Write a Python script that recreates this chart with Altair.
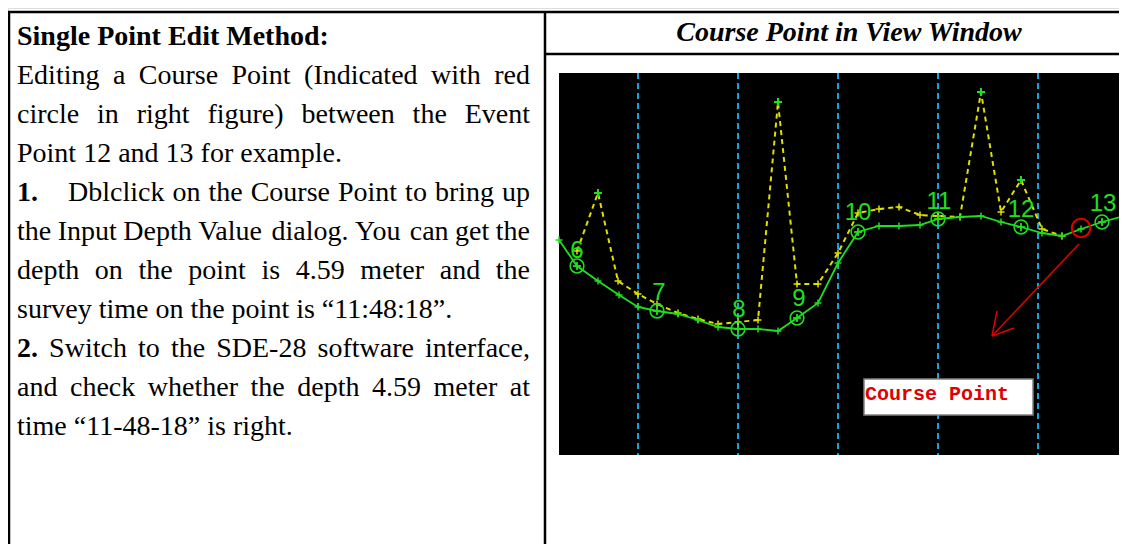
import altair as alt
import pandas as pd

# ---------------- chart data (profile: distance vs depth, image units, depth grows downward) ----------------
course_x = [0, 18, 39, 60, 79, 98, 119, 139, 159, 179, 199, 219, 238, 259, 279, 299, 320, 340,
            361, 379, 401, 422, 442, 462, 483, 503, 522, 543, 565]
course_depth = [167, 193, 208, 222, 234, 238, 241, 247, 254, 256, 256, 258, 245, 230, 190, 159,
                153, 153, 152, 146, 144, 143, 149, 154, 160, 163, 156, 149, 143]

raw_x = [18, 39, 59, 79, 98, 119, 139, 159, 179, 199, 219, 238, 259, 279, 299, 320, 340, 361,
         379, 401, 422, 442, 462, 483, 503]
raw_depth = [178, 120, 208, 221, 231, 240, 246, 251, 249, 247, 29, 211, 211, 180, 140, 136, 134,
             142, 143, 144, 19, 139, 107, 156, 163]

event_ids = ["6", "7", "8", "9", "10", "11", "12", "13"]
event_x = [18, 98, 179, 238, 299, 379, 462, 543]
event_depth = [193, 238, 256, 245, 159, 146, 154, 149]
label_x = [18, 100, 180, 240, 299, 380, 462, 544]
label_depth = [185, 227, 244, 233, 147, 136, 144, 138]

grid_x = [79, 179, 279, 379, 479]

course_point_x = [522]
course_point_depth = [155]

arrow_x1 = [520, 433, 433]
arrow_d1 = [171, 263, 263]
arrow_x2 = [433, 438, 455]
arrow_d2 = [263, 238, 255]

note_text = "Course Point"
note_box = [305, 474, 306, 342]  # x1, x2, depth1, depth2
note_pos = [306, 327]

header_text = "Course Point in View Window"
heading = "Single Point Edit Method:"
body_lines = [
    ("", "Editing a Course Point (Indicated with red", True),
    ("", "circle in right figure) between the Event", True),
    ("", "Point 12 and 13 for example.", False),
    ("1.", "Dblclick on the Course Point to bring up", True),
    ("", "the Input Depth Value dialog. You can get the", True),
    ("", "depth on the point is 4.59 meter and the", True),
    ("", "survey time on the point is \u201c11:48:18\u201d.", False),
    ("2.", "Switch to the SDE-28 software interface,", True),
    ("", "and check whether the depth 4.59 meter at", True),
    ("", "time \u201c11-48-18\u201d is right.", False),
]

# ---------------- layout helpers ----------------
W, H = 1111, 536
FS = 28
LEFT, RIGHT = 9, 522
TAB = 60
BASE0, PITCH = 37, 39

TIMES = dict(zip("abcdefghijklmnopqrstuvwxyz",
                 [444, 500, 444, 500, 444, 333, 500, 500, 278, 278, 500, 278, 778, 500, 500, 500,
                  500, 333, 389, 278, 500, 500, 722, 500, 500, 444]))
TIMES.update(zip("ABCDEFGHIJKLMNOPQRSTUVWXYZ",
                 [722, 667, 667, 722, 611, 556, 722, 722, 333, 389, 722, 611, 889, 722, 722, 556,
                  722, 667, 556, 611, 722, 722, 944, 722, 722, 611]))
TIMES.update({c: 500 for c in "0123456789"})
TIMES.update({" ": 250, ".": 250, ",": 250, ":": 278, "-": 333, "(": 333, ")": 333,
              "\u201c": 444, "\u201d": 444})
TIMES_BOLD = dict(TIMES)
TIMES_BOLD.update({".": 250, ":": 333})


def tw(s, bold=False):
    table = TIMES_BOLD if bold else TIMES
    return sum(table.get(c, 500) for c in s) / 1000.0 * FS


def justify(words, x0, x1):
    total = sum(tw(w, b) for w, b in words)
    gap = (x1 - x0 - total) / max(len(words) - 1, 1)
    out, x = [], x0
    for w, b in words:
        out.append((x, w, b))
        x += tw(w, b) + gap
    return out


rows = [(LEFT, BASE0, heading, True)]
for i, (prefix, line, just) in enumerate(body_lines):
    y = BASE0 + PITCH * (i + 1)
    if not just:
        rows.append((LEFT, y, line, False))
        continue
    words = [(w, False) for w in line.split(" ")]
    if prefix == "1.":
        rows.append((LEFT, y, prefix, True))
        placed = justify(words, TAB, RIGHT)
    elif prefix:
        placed = justify([(prefix, True)] + words, LEFT, RIGHT)
    else:
        placed = justify(words, LEFT, RIGHT)
    for x, w, b in placed:
        rows.append((x, y, w, b))

XS = alt.Scale(domain=[0, 565], range=[551, 1116], nice=False, zero=False)
YS = alt.Scale(domain=[0, 382], range=[65, 447], nice=False, zero=False)

GREEN = "#1ee01e"
YELLOW = "#e0e000"
CYAN = "#14a5dc"
RED = "#e00000"
PLUS = "M-1,0L1,0M0,-1L0,1"

one = pd.DataFrame({"a": [1]})

layers = []

# ---------------- table frame ----------------
for (xa, xb, ya, yb) in [(0, W, 4, None), (537, W, 46, None), (1, None, 4, H), (537, None, 4, H)]:
    enc = {"x": alt.value(xa), "y": alt.value(ya)}
    if xb is not None:
        enc["x2"] = alt.value(xb)
    if yb is not None:
        enc["y2"] = alt.value(yb)
    layers.append(alt.Chart(one).mark_rule(color="black", strokeWidth=2.5).encode(**enc))

for (x, y, t, b) in rows:
    kw = dict(font="Liberation Serif", fontSize=FS, align="left", baseline="alphabetic", color="black")
    if b:
        kw["fontWeight"] = "bold"
    layers.append(alt.Chart(one).mark_text(**kw).encode(
        x=alt.value(x), y=alt.value(y), text=alt.value(t)))

layers.append(alt.Chart(one).mark_text(
    font="Liberation Serif", fontSize=FS, fontWeight="bold", fontStyle="italic", align="center",
    baseline="alphabetic", color="black").encode(
    x=alt.value(841), y=alt.value(33), text=alt.value(header_text)))

# ---------------- view window ----------------
bg_df = pd.DataFrame({"x1": [0], "x2": [565], "d1": [0], "d2": [382]})
layers.append(alt.Chart(bg_df).mark_rect(color="black").encode(
    x=alt.X("x1:Q", scale=XS, axis=None), x2="x2:Q",
    y=alt.Y("d1:Q", scale=YS, axis=None), y2="d2:Q"))

grid_df = pd.DataFrame({"gx": grid_x, "d1": [0] * len(grid_x), "d2": [382] * len(grid_x)})
layers.append(alt.Chart(grid_df).mark_rule(color=CYAN, strokeWidth=2, strokeDash=[6, 4]).encode(
    x=alt.X("gx:Q", scale=XS, axis=None), y=alt.Y("d1:Q", scale=YS, axis=None), y2="d2:Q"))

raw_df = pd.DataFrame({"x": raw_x, "d": raw_depth, "o": list(range(len(raw_x)))})
layers.append(alt.Chart(raw_df).mark_line(color=YELLOW, strokeWidth=2, strokeDash=[5, 4]).encode(
    x=alt.X("x:Q", scale=XS, axis=None), y=alt.Y("d:Q", scale=YS, axis=None), order="o:Q"))
layers.append(alt.Chart(raw_df).mark_point(shape=PLUS, size=49, color=YELLOW, strokeWidth=1.5,
                                           opacity=1).encode(
    x=alt.X("x:Q", scale=XS, axis=None), y=alt.Y("d:Q", scale=YS, axis=None)))
# spike tips are marked in green
layers.append(alt.Chart(raw_df).transform_filter("datum.d < 125").mark_point(
    shape=PLUS, size=64, color=GREEN, strokeWidth=2, opacity=1).encode(
    x=alt.X("x:Q", scale=XS, axis=None), y=alt.Y("d:Q", scale=YS, axis=None)))

course_df = pd.DataFrame({"x": course_x, "d": course_depth, "o": list(range(len(course_x)))})
layers.append(alt.Chart(course_df).mark_line(color=GREEN, strokeWidth=1.8).encode(
    x=alt.X("x:Q", scale=XS, axis=None), y=alt.Y("d:Q", scale=YS, axis=None), order="o:Q"))
layers.append(alt.Chart(course_df).mark_point(shape=PLUS, size=49, color=GREEN, strokeWidth=1.5,
                                              opacity=1).encode(
    x=alt.X("x:Q", scale=XS, axis=None), y=alt.Y("d:Q", scale=YS, axis=None)))

ev_df = pd.DataFrame({"x": event_x, "d": event_depth})
layers.append(alt.Chart(ev_df).mark_point(shape="circle", size=190, filled=False, color=GREEN,
                                          strokeWidth=1.5, opacity=1).encode(
    x=alt.X("x:Q", scale=XS, axis=None), y=alt.Y("d:Q", scale=YS, axis=None)))
layers.append(alt.Chart(ev_df).mark_point(shape=PLUS, size=64, color=GREEN, strokeWidth=1.5,
                                          opacity=1).encode(
    x=alt.X("x:Q", scale=XS, axis=None), y=alt.Y("d:Q", scale=YS, axis=None)))

lab_df = pd.DataFrame({"x": label_x, "d": label_depth, "t": event_ids})
layers.append(alt.Chart(lab_df).mark_text(font="Liberation Sans", fontSize=24, color=GREEN,
                                          align="center", baseline="alphabetic").encode(
    x=alt.X("x:Q", scale=XS, axis=None), y=alt.Y("d:Q", scale=YS, axis=None), text="t:N"))

layers.append(alt.Chart(pd.DataFrame({"x": course_point_x, "d": course_point_depth})).mark_point(
    shape="circle", size=340, filled=False, color=RED, strokeWidth=2, opacity=1).encode(
    x=alt.X("x:Q", scale=XS, axis=None), y=alt.Y("d:Q", scale=YS, axis=None)))

arrow_df = pd.DataFrame({"x1": arrow_x1, "d1": arrow_d1, "x2": arrow_x2, "d2": arrow_d2})
layers.append(alt.Chart(arrow_df).mark_rule(color=RED, strokeWidth=1.5).encode(
    x=alt.X("x1:Q", scale=XS, axis=None), y=alt.Y("d1:Q", scale=YS, axis=None), x2="x2:Q", y2="d2:Q"))

box_df = pd.DataFrame({"x1": [note_box[0]], "x2": [note_box[1]], "d1": [note_box[2]], "d2": [note_box[3]]})
layers.append(alt.Chart(box_df).mark_rect(fill="white", stroke="#808080", strokeWidth=1.5).encode(
    x=alt.X("x1:Q", scale=XS, axis=None), x2="x2:Q", y=alt.Y("d1:Q", scale=YS, axis=None), y2="d2:Q"))
layers.append(alt.Chart(pd.DataFrame({"x": [note_pos[0]], "d": [note_pos[1]], "t": [note_text]})).mark_text(
    font="Liberation Mono", fontSize=20, fontWeight="bold", color=RED, align="left",
    baseline="alphabetic").encode(
    x=alt.X("x:Q", scale=XS, axis=None), y=alt.Y("d:Q", scale=YS, axis=None), text="t:N"))

chart = alt.layer(*layers).properties(
    width=W, height=H, padding=0, autosize=alt.AutoSizeParams(type="none")
).configure_view(stroke=None).configure(background="white")

chart.save("out.html", embed_options={"renderer": "svg", "actions": False})
